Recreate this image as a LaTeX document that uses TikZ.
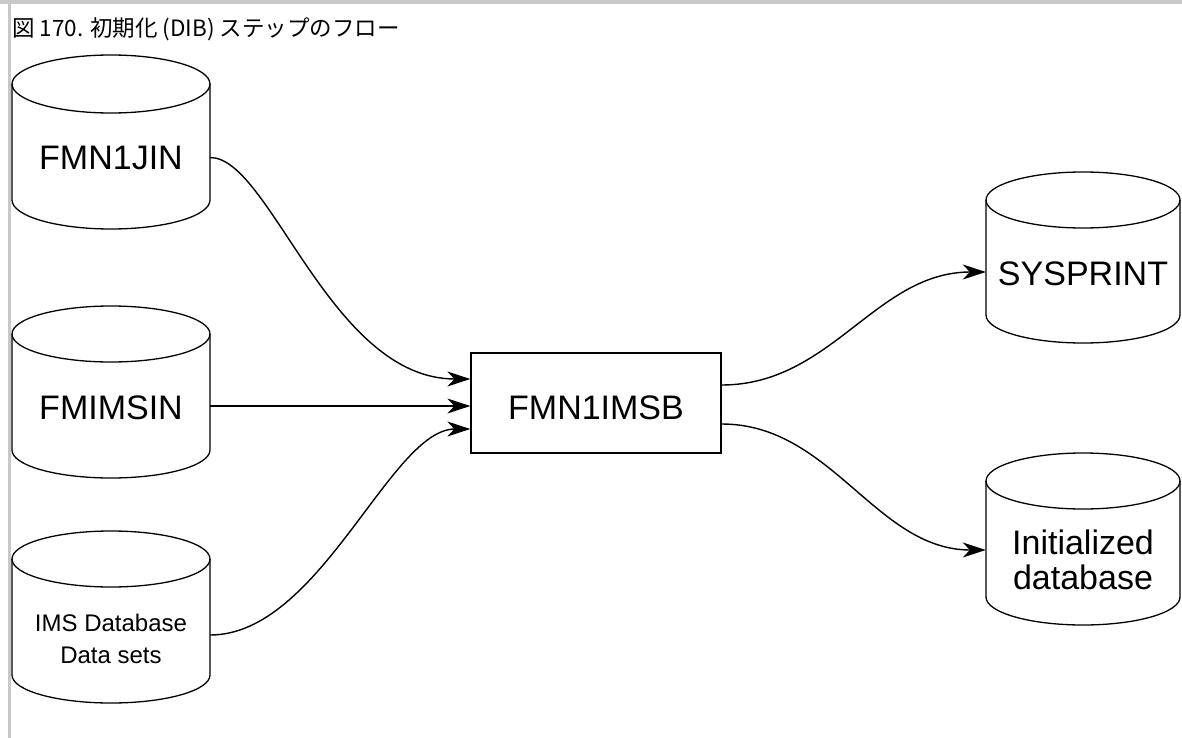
\documentclass[tikz,border=0pt]{standalone}
\usepackage{fontspec}
\setmainfont{Liberation Sans}
\newfontfamily\cjk{Noto Sans CJK JP}
\usetikzlibrary{arrows.meta}
\definecolor{framegray}{RGB}{200,200,200}
\begin{document}
\begin{tikzpicture}[x=1pt,y=-1pt,
  cylline/.style={line width=1.3pt, black},
  cyltext/.style={inner sep=0pt, align=center, font=\fontsize{34}{35}\selectfont},
  smalltext/.style={inner sep=0pt, align=center, font=\fontsize{24}{32}\selectfont},
  procbox/.style={draw, line width=1.3pt, minimum width=250pt, minimum height=100pt, inner sep=0pt,
    font=\fontsize{34}{35}\selectfont, text height=33pt, text depth=0pt},
  arr/.style={line width=1.4pt, -{Stealth[length=23pt,width=15pt,inset=7pt]}}]
\useasboundingbox (0,0) rectangle (1182,738);
\fill[framegray] (0,0) rectangle (1182,4);
\fill[framegray] (8,0) rectangle (11,738);

\node[anchor=base west, inner sep=0pt, font=\cjk\fontsize{22.5}{24}\selectfont] (title) at (12,37) {図 170. 初期化 (DIB) ステップのフロー};

% cylinder outlines
\draw[cylline] (12,84) -- (12,200) arc[start angle=180, end angle=360, x radius=99pt, y radius=29pt] -- (210,84);
\draw[cylline] (111,84) ellipse[x radius=99pt, y radius=29pt];

\draw[cylline] (12,334) -- (12,450) arc[start angle=180, end angle=360, x radius=99pt, y radius=28pt] -- (210,334);
\draw[cylline] (111,334) ellipse[x radius=99pt, y radius=28pt];

\draw[cylline] (12,559) -- (12,675) arc[start angle=180, end angle=360, x radius=99pt, y radius=28pt] -- (210,559);
\draw[cylline] (111,559) ellipse[x radius=99pt, y radius=28pt];

\draw[cylline] (986,200) -- (986,315) arc[start angle=180, end angle=360, x radius=97pt, y radius=28pt] -- (1180,200);
\draw[cylline] (1083,200) ellipse[x radius=97pt, y radius=28pt];

\draw[cylline] (986,481) -- (986,597) arc[start angle=180, end angle=360, x radius=97pt, y radius=28pt] -- (1180,481);
\draw[cylline] (1083,481) ellipse[x radius=97pt, y radius=28pt];

% texts
\node[cyltext, minimum width=198pt] (c1) at (111,157.5) {FMN1JIN};
\node[cyltext, minimum width=198pt] (c2) at (111,407.5) {FMIMSIN};
\node[smalltext, minimum width=198pt] (c3) at (111,638.5) {IMS Database\\Data sets};
\node[cyltext, minimum width=194pt] (c4) at (1083,273.5) {SYSPRINT};
\node[cyltext, minimum width=194pt] (c5) at (1083,560) {Initialized\\database};

\node[procbox] (box) at (596,403) {FMN1IMSB};

% connectors
\draw[arr] (c1.east) .. controls +(60,0) and +(-140,0) .. ([yshift=24pt]box.west);
\draw[arr] ([yshift=1.5pt]c2.east) -- ([yshift=-3pt]box.west);
\draw[arr] ([yshift=3.5pt]c3.east) .. controls +(110,0) and +(-80,0) .. ([yshift=-26pt]box.west);
\draw[arr] ([yshift=18pt]box.east) .. controls +(110,0) and +(-110,0) .. ([yshift=1.5pt]c4.west);
\draw[arr] ([yshift=-21pt]box.east) .. controls +(110,0) and +(-110,0) .. ([yshift=10pt]c5.west);
\end{tikzpicture}
\end{document}
